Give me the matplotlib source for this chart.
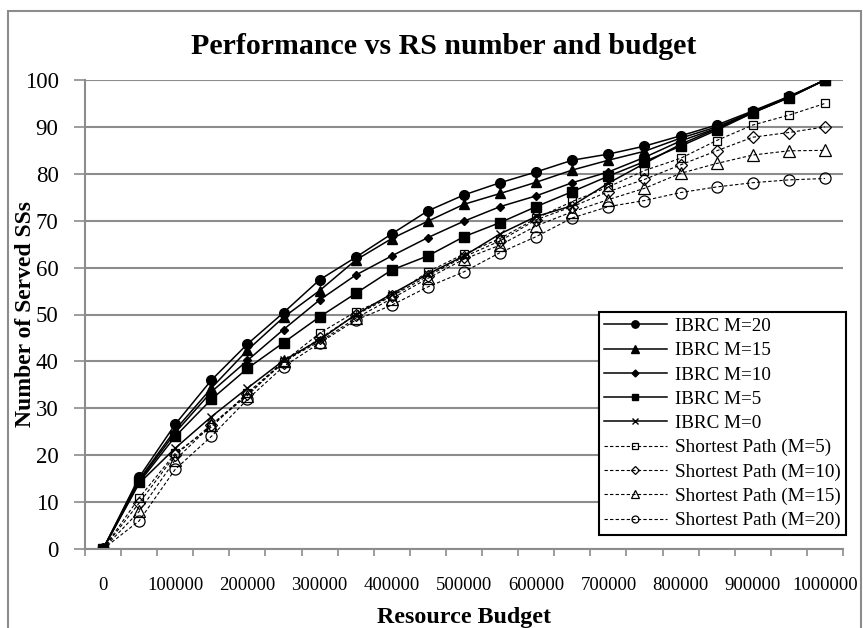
import matplotlib
matplotlib.use("Agg")
import matplotlib.pyplot as plt
from matplotlib.patches import Rectangle

plt.rcParams['font.family'] = ['Liberation Serif', 'DejaVu Serif']

budget = list(range(0, 1000001, 50000))
tick_labels = [str(b) for b in budget[::2]]

ibrc_20 = [0, 15.3, 26.6, 36.0, 43.7, 50.4, 57.4, 62.2, 67.2, 72.1, 75.5, 78.1, 80.4, 82.9, 84.2, 85.9, 88.1, 90.4, 93.4, 96.5, 100]
ibrc_15 = [0, 14.8, 25.4, 34.3, 42.4, 49.4, 55.1, 61.6, 66.2, 69.9, 73.5, 75.8, 78.2, 80.8, 82.9, 84.8, 87.6, 90.0, 93.2, 96.4, 100]
ibrc_10 = [0, 14.5, 24.8, 33.5, 40.2, 46.8, 53.1, 58.4, 62.5, 66.4, 69.9, 73.0, 75.3, 78.1, 80.4, 83.5, 87.0, 89.7, 93.1, 96.3, 100]
ibrc_5 = [0, 14.2, 24.0, 31.9, 38.5, 44.0, 49.5, 54.5, 59.5, 62.5, 66.6, 69.6, 73.0, 76.2, 79.5, 82.6, 85.9, 89.3, 93.0, 96.2, 100]
ibrc_0 = [0, 14.0, 21.5, 28.2, 34.3, 40.2, 44.6, 50.0, 54.4, 58.6, 62.5, 67.2, 70.9, 73.2, 78.0, 82.2, 86.3, 89.6, 93.0, 96.3, 100]
sp_5 = [0, 10.9, 20.4, 26.0, 33.3, 39.9, 46.0, 50.6, 53.9, 59.1, 62.9, 66.2, 70.5, 74.1, 77.2, 80.7, 83.3, 87.1, 90.4, 92.5, 95]
sp_10 = [0, 9.8, 20.0, 26.5, 33.0, 39.7, 44.9, 49.9, 53.9, 58.2, 62.3, 65.7, 70.2, 73.0, 76.2, 78.8, 81.9, 84.9, 87.8, 88.8, 90]
sp_15 = [0, 8.0, 19.0, 26.4, 32.7, 40.1, 44.2, 49.2, 53.4, 57.7, 61.8, 64.8, 68.9, 71.9, 74.5, 76.9, 80.1, 82.2, 84.0, 84.9, 85]
sp_20 = [0, 6.0, 17.0, 24.0, 31.9, 38.9, 43.9, 48.8, 52.0, 55.9, 59.1, 63.2, 66.6, 70.6, 73.0, 74.3, 76.0, 77.2, 78.1, 78.7, 79]

GRID = '#8c8c8c'

fig = plt.figure(figsize=(8.63, 6.28), dpi=100)
fig.patches.append(Rectangle((8 / 863, -0.1), 853 / 863, 1.1 - 11 / 628, transform=fig.transFigure,
                             fill=False, edgecolor=GRID, linewidth=1.5))
ax = fig.add_axes([85 / 863, 1 - 549 / 628, 758 / 863, 469 / 628])

pos = list(range(len(budget)))

solid = dict(color='black', linewidth=1.1)
# hollow markers let the dashed line show through them
dashed = dict(color='black', linewidth=0.8, linestyle=(0, (3, 2)), markerfacecolor='none',
              markeredgecolor='black', markeredgewidth=0.9)

ax.plot(pos, ibrc_20, marker='o', markersize=7, label='IBRC M=20', **solid)
ax.plot(pos, ibrc_15, marker='^', markersize=7, label='IBRC M=15', **solid)
ax.plot(pos, ibrc_10, marker='D', markersize=4.5, label='IBRC M=10', **solid)
ax.plot(pos, ibrc_5, marker='s', markersize=6.5, label='IBRC M=5', **solid)
ax.plot(pos, ibrc_0, marker='x', markersize=6, markeredgewidth=1, label='IBRC M=0', **solid)
ax.plot(pos, sp_5, marker='s', markersize=6, label='Shortest Path (M=5)', **dashed)
ax.plot(pos, sp_10, marker='D', markersize=6, label='Shortest Path (M=10)', **dashed)
ax.plot(pos, sp_15, marker='^', markersize=9, label='Shortest Path (M=15)', **dashed)
ax.plot(pos, sp_20, marker='o', markersize=8, label='Shortest Path (M=20)', **dashed)

ax.set_xlim(-0.5, len(budget) - 0.5)
ax.set_ylim(0, 100)
ax.set_yticks(range(0, 101, 10))
ax.yaxis.grid(True, color=GRID, linewidth=1.5)
ax.set_axisbelow(True)

# tick marks sit between categories, labels on every second category
ax.set_xticks([p - 0.5 for p in pos] + [len(budget) - 0.5])
ax.set_xticklabels([])
ax.set_xticks(pos[::2], minor=True)
ax.set_xticklabels(tick_labels, minor=True, fontsize=13.5)
ax.tick_params(axis='x', which='major', length=5, color=GRID, width=1.2)
ax.tick_params(axis='x', which='minor', length=0, pad=20)
ax.tick_params(axis='y', length=8, color=GRID, width=1.2, labelsize=16.5, pad=11)

for side in ['top', 'right']:
    ax.spines[side].set_visible(False)
for side in ['left', 'bottom']:
    ax.spines[side].set_color(GRID)
    ax.spines[side].set_linewidth(1.5)

fig.text(444 / 863, 1 - 46 / 628, 'Performance vs RS number and budget', ha='center', va='center',
         fontsize=21.5, fontweight='bold')
fig.text(464 / 863, 1 - 617 / 628, 'Resource Budget', ha='center', va='center',
         fontsize=17.3, fontweight='bold')
fig.text(26 / 863, 1 - 314 / 628, 'Number of Served SSs', ha='center', va='center', rotation=90,
         fontsize=17, fontweight='bold')

leg = ax.legend(loc='upper right', bbox_to_anchor=(846 / 863, 1 - 312 / 628), bbox_transform=fig.transFigure,
                fontsize=13.75, frameon=True, fancybox=False, handlelength=3.25, handletextpad=0.42,
                labelspacing=0.36, borderpad=0.3, borderaxespad=0)
leg.get_frame().set_edgecolor('black')
leg.get_frame().set_linewidth(1.5)
leg.get_frame().set_alpha(1)

# the legend keys use smaller markers than the plot
legend_marker_sizes = [5.3, 5.5, 3.5, 5, 4, 4, 4.5, 6, 5]
for handle, size in zip(leg.legend_handles, legend_marker_sizes):
    handle.set_markersize(size)

fig.savefig('out.png', dpi=100)
